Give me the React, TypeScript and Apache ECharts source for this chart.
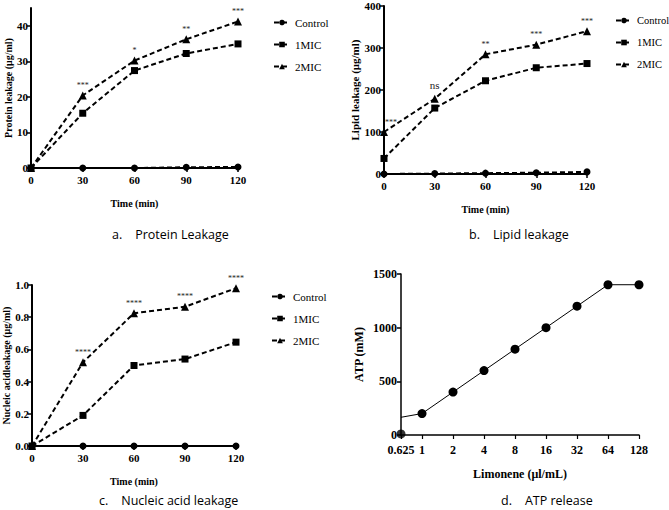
import React, { useEffect, useRef } from "react";
import * as echarts from "echarts";

const timeCats = [0, 30, 60, 90, 120];

const proteinControl = [0, 0, 0, 0.2, 0.3];
const protein1MIC = [0, 15.4, 27.4, 32.2, 34.9];
const protein2MIC = [0, 20.4, 30.2, 36.2, 41.2];
const proteinSig = ["", "***", "*", "**", "***"];
const proteinTicks = [0, 10, 20, 30, 40];

const lipidControl = [0, 1, 2, 3, 5];
const lipid1MIC = [37, 157, 222, 253, 263];
const lipid2MIC = [100, 179, 285, 308, 340];
const lipidSig = ["***", "ns", "**", "***", "***"];

const nucleicControl = [0, 0, 0, 0, 0];
const nucleic1MIC = [0, 0.19, 0.5, 0.54, 0.645];
const nucleic2MIC = [0, 0.52, 0.825, 0.865, 0.98];
const nucleicSig = ["", "****", "****", "****", "****"];

const atpConc = [1, 2, 4, 8, 16, 32, 64, 128];
const atpValues = [200, 400, 600, 800, 1000, 1200, 1400, 1400];
const atpLowConc = 0.625;
const atpLowValue = 10;
const atpLineStart = 165;

const legendNames = ["Control", "1MIC", "2MIC"];
const captions = ["a.    Protein Leakage", "b.    Lipid leakage", "c.    Nucleic acid leakage", "d.    ATP release"];

const SERIF = "Liberation Serif";

export default function App() {
  const ref = useRef<HTMLDivElement>(null);
  useEffect(() => {
    const chart = echarts.init(ref.current!, null, { renderer: "svg" });

    const axisLine = { lineStyle: { color: "#000", width: 2 } };
    const tickLbl = (size: number) => ({ color: "#000", fontFamily: SERIF, fontWeight: "bold" as const, fontSize: size, margin: 6 });
    const nameStyle = (size: number) => ({ color: "#000", fontFamily: SERIF, fontWeight: "bold" as const, fontSize: size });

    const mkX = (gi: number, gap: number) => ({
      type: "value",
      gridIndex: gi,
      min: 0,
      max: 120,
      interval: 30,
      name: "Time (min)",
      nameLocation: "middle",
      nameGap: gap,
      nameTextStyle: nameStyle(10),
      axisLine,
      axisTick: { show: true, length: 4, lineStyle: { width: 1.5, color: "#000" } },
      axisLabel: tickLbl(11),
      splitLine: { show: false },
    });
    const mkY = (gi: number, max: number, interval: number, name: string, gap: number, nsize: number, fmt?: (v: number) => string) => ({
      type: "value",
      gridIndex: gi,
      min: 0,
      max,
      interval,
      name,
      nameLocation: "middle",
      nameGap: gap,
      nameTextStyle: nameStyle(nsize),
      axisLine: { show: true, ...axisLine },
      axisTick: { show: true, length: 4, lineStyle: { width: 1.5, color: "#000" } },
      axisLabel: { ...tickLbl(11), margin: 3, formatter: fmt ?? ((v: number) => String(v)) },
      splitLine: { show: false },
    });

    const mkSeries = (gi: number, ctrl: number[], m1: number[], m2: number[], sig: string[], sigSize: number[], sigOffset: number[][]) => {
      const common = {
        type: "line",
        xAxisIndex: gi,
        yAxisIndex: gi,
        lineStyle: { color: "#000", width: 2, type: [5, 3] },
        itemStyle: { color: "#000" },
        symbolSize: 7,
        z: 3,
      };
      return [
        { ...common, name: "Control", symbol: "circle", data: ctrl.map((v, i) => [timeCats[i], v]) },
        { ...common, name: "1MIC", symbol: "rect", data: m1.map((v, i) => [timeCats[i], v]) },
        {
          ...common,
          name: "2MIC",
          symbol: "triangle",
          symbolSize: 8,
          data: m2.map((v, i) => ({
            value: [timeCats[i], v],
            label: {
              show: sig[i] !== "",
              position: "top",
              formatter: sig[i],
              fontSize: sigSize[i],
              offset: sigOffset[i],
              color: "#222",
              fontFamily: SERIF,
              distance: 2,
            },
          })),
        },
      ];
    };

    const mkLegend = (left: number, top: number, size: number) => ({
      left,
      top,
      orient: "vertical",
      itemGap: 11,
      itemWidth: 16,
      itemHeight: 7,
      data: legendNames,
      textStyle: { color: "#000", fontFamily: SERIF, fontSize: size, fontWeight: "normal" },
      selectedMode: false,
    });

    const capStyle = { fill: "#000", fontFamily: "Open Sans", fontSize: 12.5 };

    chart.setOption({
      animation: false,
      backgroundColor: "#fff",
      textStyle: { fontFamily: SERIF },
      grid: [
        { left: 31, top: 8, width: 207, height: 160 },
        { left: 384, top: 6, width: 203, height: 168 },
        { left: 32, top: 285, width: 204, height: 161 },
        { left: 401, top: 274, width: 238, height: 161 },
      ],
      legend: [mkLegend(268, 12, 11), mkLegend(610, 10, 10.5), mkLegend(266, 286, 11)],
      xAxis: [
        mkX(0, 30),
        mkX(1, 30),
        mkX(2, 30),
        {
          type: "log",
          logBase: 2,
          gridIndex: 3,
          min: 0.625,
          max: 128,
          splitNumber: 8,
          name: "Limonene (μl/mL)",
          nameLocation: "middle",
          nameGap: 33,
          nameTextStyle: nameStyle(12),
          axisLine: { lineStyle: { color: "#000", width: 1.5 } },
          axisTick: { show: true, length: 4, lineStyle: { width: 1.2, color: "#000" } },
          axisLabel: {
            ...tickLbl(12),
            margin: 9,
            formatter: (v: number) => String(Number(v.toPrecision(4))),
          },
          splitLine: { show: false },
        },
      ],
      yAxis: [
        {
          ...mkY(0, 45, 10, "Protein leakage (μg/ml)", 18, 10),
          axisTick: { show: true, length: 4, lineStyle: { width: 1.5, color: "#000" }, customValues: proteinTicks },
          axisLabel: { ...tickLbl(11), margin: 3, customValues: proteinTicks, formatter: (v: number) => String(v) },
        },
        mkY(1, 400, 100, "Lipid leakage (μg/ml)", 22, 11),
        mkY(2, 1.0, 0.2, "Nucleic acidleakage (μg/ml)", 21, 10, (v: number) => v.toFixed(1)),
        {
          ...mkY(3, 1500, 500, "ATP (mM)", 36, 12),
          axisLine: { show: true, lineStyle: { color: "#000", width: 1.5 } },
          axisLabel: { ...tickLbl(12), margin: 4, formatter: (v: number) => String(v) },
        },
      ],
      series: [
        ...mkSeries(0, proteinControl, protein1MIC, protein2MIC, proteinSig, [8, 8, 8, 8, 8], [[0, 0], [0, 0], [0, 0], [0, 0], [0, 0]]),
        ...mkSeries(1, lipidControl, lipid1MIC, lipid2MIC, lipidSig, [8, 11, 8, 8, 8], [[7, 0], [0, -2], [0, 0], [0, 0], [0, 0]]),
        ...mkSeries(2, nucleicControl, nucleic1MIC, nucleic2MIC, nucleicSig, [8, 8, 8, 8, 8], [[0, 0], [0, 0], [0, 0], [0, 0], [0, 0]]),
        {
          type: "line",
          name: "ATP",
          xAxisIndex: 3,
          yAxisIndex: 3,
          symbol: "circle",
          symbolSize: 9,
          lineStyle: { color: "#000", width: 1 },
          itemStyle: { color: "#000" },
          data: [
            { value: [atpLowConc, atpLineStart], symbol: "none" },
            ...atpConc.map((c, i) => [c, atpValues[i]]),
          ],
        },
        {
          type: "scatter",
          name: "ATP low",
          xAxisIndex: 3,
          yAxisIndex: 3,
          symbol: "circle",
          symbolSize: 9,
          itemStyle: { color: "#000" },
          data: [[atpLowConc, atpLowValue]],
          clip: false,
          z: 5,
        },
      ],
      graphic: [
        { type: "text", left: 112, top: 228, style: { text: captions[0], ...capStyle } },
        { type: "text", left: 469, top: 228, style: { text: captions[1], ...capStyle } },
        { type: "text", left: 99, top: 494, style: { text: captions[2], ...capStyle } },
        { type: "text", left: 501, top: 494, style: { text: captions[3], ...capStyle } },
      ],
    });
    return () => chart.dispose();
  }, []);
  return <div ref={ref} style={{ position: "fixed", left: 0, top: 0, width: 669, height: 510 }} />;
}
